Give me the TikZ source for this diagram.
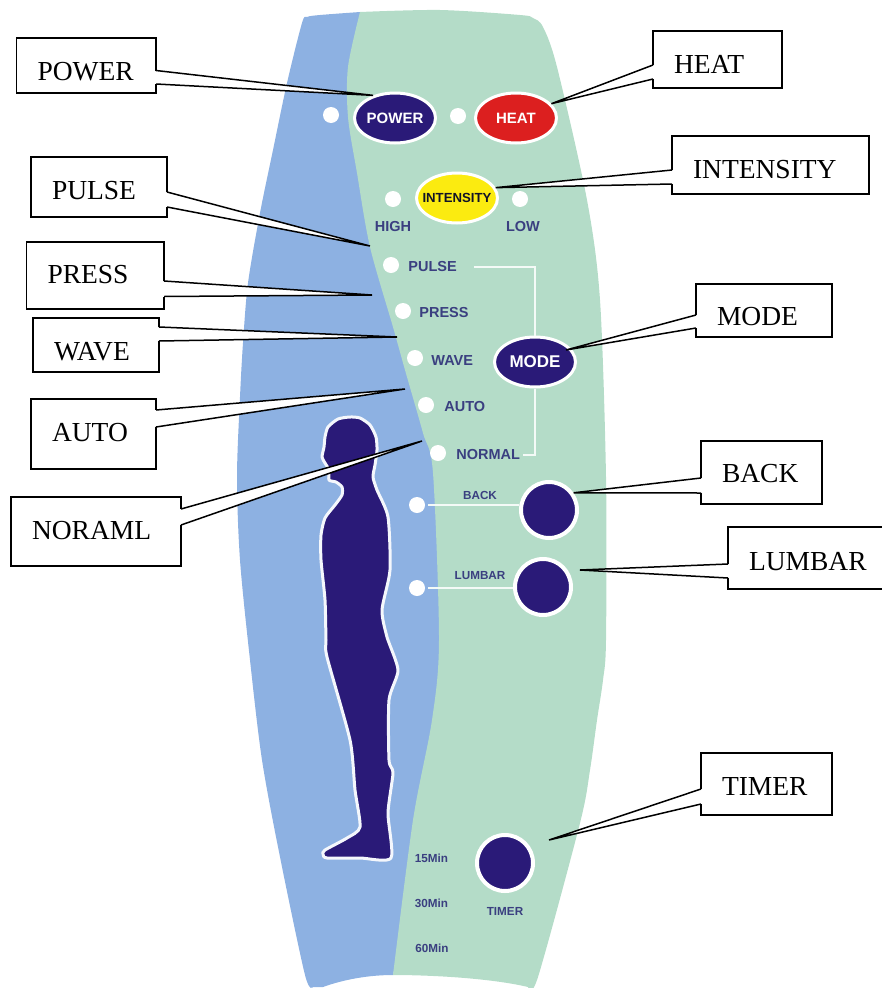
\documentclass[tikz,border=0pt]{standalone}
\usepackage{fontspec}
\usepackage{tikz}
\usepackage{xcolor}
\usetikzlibrary{calc,positioning,shapes.geometric}
\setmainfont{Liberation Serif}
\newfontfamily\panelfont{Liberation Sans}
\definecolor{skyblue}{HTML}{8DB1E2}
\definecolor{mint}{HTML}{B4DCC8}
\definecolor{navy}{HTML}{2A1A78}
\definecolor{labelblue}{HTML}{3A3F80}
\definecolor{heatred}{HTML}{DC1F1F}
\definecolor{lampyellow}{HTML}{FBEB10}
\newcommand{\calltail}[4]{
 \draw[white,line width=2.5pt] (#1 |- 0,#2) -- (#1 |- 0,#3);
 \draw[tailline] (#1 |- 0,#2) -- (#4) -- (#1 |- 0,#3);
}
\begin{document}
\begin{tikzpicture}[
 x=1pt,y=-1pt,
 box/.style={draw=black,fill=white,line width=1.4pt,anchor=north west,inner ysep=0pt,inner xsep=21pt,outer sep=0pt,align=left,font=\fontsize{27.5}{30}\selectfont},
 boxdim/.style n args={3}{text width=#1pt,text height=#2pt,text depth=#3pt},
 tailline/.style={draw=black,fill=white,line width=1.5pt,line join=miter},
 led/.style={circle,fill=white,minimum size=16pt,inner sep=0pt},
 oval/.style={ellipse,draw=white,line width=3pt,minimum width=81pt,minimum height=50pt,inner sep=0pt,text=white,font=\panelfont\bfseries\fontsize{15}{15}\selectfont},
 round/.style={circle,draw=white,fill=navy,line width=4pt,minimum size=56pt,inner sep=0pt},
 lbl/.style={text=labelblue,inner sep=0pt,font=\panelfont\bfseries\fontsize{14.5}{15}\selectfont},
 small/.style={text=labelblue,inner sep=0pt,font=\panelfont\bfseries\fontsize{11.7}{12}\selectfont},
 wire/.style={draw=white!85!mint,line width=1.8pt}
]
\useasboundingbox (0,0) rectangle (881,988);
\fill[skyblue] plot[smooth] coordinates {(360,12) (320,15) (307,17) (302,23) (287,83) (273,150) (260,213) (248,283) (243,343) (240,397) (237,477) (240,560) (250,660) (262,760) (280,857) (305,975) (313,987)} -- (323,987) .. controls (345,979) and (370,975) .. (393,975) -- (500,500) -- cycle;
\fill[mint] plot[smooth] coordinates {(360,12) (440,10) (520,15) (533,18) (543,27) (557,67) (587,200) (600,300) (606,477) (606,640) (603,680) (597,720) (590,770) (580,823) (538,977) (528,987)} .. controls (490,978) and (430,975) .. (393,975) -- plot[smooth] coordinates {(393,975) (413,820) (432,720) (439,640) (433,473) (423,433) (405,370) (393,327) (370,247) (357,173) (348,117) (348,67) (360,12)} -- cycle;
\draw[draw=white!90!skyblue,fill=navy,line width=3pt,line join=round] plot[smooth cycle,tension=0.4] coordinates {(350,417) (338,419) (328,427) (325,437) (324,447) (322,457) (325,463) (329,470) (329,480) (336,482) (342,487) (342,495) (335,505) (325,518) (321,535) (321,560) (325,600) (326,640) (327,657) (350,740) (355,790) (360,827) (347,838) (325,850) (323,854) (327,858) (360,858) (391,858) (388,813) (393,773) (389,760) (389,700) (398,670) (387,637) (382,610) (390,570) (388,517) (377,490) (373,477) (375,465) (377,450) (376,437) (370,425) (360,418)};
\node[oval,fill=navy] (powerbtn) at (395,118) {POWER};
\node[oval,fill=heatred] (heatbtn) at (516,118) {HEAT};
\node[oval,fill=lampyellow,text=black!70!labelblue,font=\panelfont\bfseries\fontsize{13.2}{14}\selectfont] (intensitybtn) at (457,198) {\makebox[50pt]{INTENSITY}};
\node[oval,fill=navy,font=\panelfont\bfseries\fontsize{17}{17}\selectfont] (modebtn) at (535,362) {MODE};
\node[round] (backbtn) at (549,510) {};
\node[round] (lumbarbtn) at (543,587) {};
\node[round] (timerbtn) at (505,863) {};
\node[led] (powerled) at (331,115) {};
\node[led] (heatled) at (458,116) {};
\node[led] (highled) at (393,199) {};
\node[led] (lowled) at (520,199) {};
\node[led] (pulseled) at (391,265) {};
\node[led] (pressled) at (403,311) {};
\node[led] (waveled) at (415,358) {};
\node[led] (autoled) at (426,405) {};
\node[led] (normalled) at (438,453) {};
\node[led] (backled) at (417,505) {};
\node[led] (lumbarled) at (417,588) {};
\node[lbl,below=14pt of highled] (highlbl) {HIGH};
\node[lbl,below=14pt of lowled,xshift=3pt] (lowlbl) {LOW};
\node[lbl,right=9pt of pulseled,yshift=-2pt] (pulselbl) {PULSE};
\node[lbl,right=8pt of pressled,yshift=-2pt] (presslbl) {PRESS};
\node[lbl,right=8pt of waveled,yshift=-3pt] (wavelbl) {WAVE};
\node[lbl,right=10pt of autoled,yshift=-2pt] (autolbl) {AUTO};
\node[lbl,right=10pt of normalled,yshift=-2pt] (normallbl) {NORMAL};
\node[small] (backlbl) at (480,495) {BACK};
\node[small] (lumbarlbl) at (480,576) {LUMBAR};
\node[small] (minfifteen) at (431.5,858) {15Min};
\node[small] (minthirty) at (431.5,903) {30Min};
\node[small] (minsixty) at (432,948) {60Min};
\node[small,below=14pt of timerbtn] (timerlbl) {TIMER};
\draw[wire] ($(pulselbl.east)+(17,0)$) -| (modebtn.north);
\draw[wire] (modebtn.south) |- ($(normallbl.east)+(3,0)$);
\draw[wire,shorten <=3pt] (backled) -- (backled -| backbtn.west);
\draw[wire,shorten <=3pt] (lumbarled) -- (lumbarled -| lumbarbtn.west);
\coordinate (pulsetip) at (370,246);
\coordinate (presstip) at (372,295);
\coordinate (wavetip) at (397,337);
\coordinate (autotip) at (405,389);
\coordinate (normaltip) at (422,441);
\coordinate (modetip) at (566,350);
\coordinate (lumbartip) at (580,570);
\coordinate (timertip) at (549,840);
\node[box,boxdim={97.5}{42}{13}] (power) at (16.5,38) {POWER};
\node[box,boxdim={94}{42}{18}] (pulse) at (31,157) {PULSE};
\node[box,boxdim={95.5}{41}{26}] (press) at (26.5,242) {PRESS};
\node[box,boxdim={84}{42}{12}] (wave) at (33,318) {WAVE};
\node[box,boxdim={83}{42}{28}] (auto) at (31,399) {AUTO};
\node[box,boxdim={128}{42}{27}] (noraml) at (11,497) {NORAML};
\node[box,boxdim={87}{42}{15}] (heat) at (653,31) {HEAT};
\node[box,boxdim={155}{42}{16}] (intensity) at (672,136) {INTENSITY};
\node[box,boxdim={94}{41}{12}] (mode) at (696,284) {MODE};
\node[box,boxdim={79}{41}{22}] (back) at (701,441) {BACK};
\node[box,boxdim={125}{43}{19}] (lumbar) at (728,527) {LUMBAR};
\node[box,boxdim={89}{42}{20}] (timer) at (701,753) {TIMER};
\calltail{power.east}{70.5}{84}{powerbtn.134}
\calltail{pulse.east}{192}{207}{pulsetip}
\calltail{press.east}{281}{296.5}{presstip}
\calltail{wave.east}{327}{341}{wavetip}
\calltail{auto.east}{410}{427}{autotip}
\calltail{noraml.east}{509}{525}{normaltip}
\calltail{heat.west}{65}{79}{heatbtn.22}
\calltail{intensity.west}{170}{184}{intensitybtn.15}
\calltail{mode.west}{315}{328}{modetip}
\calltail{back.west}{478}{493}{backbtn.35}
\calltail{lumbar.west}{564}{578}{lumbartip}
\calltail{timer.west}{789}{804}{timertip}
\end{tikzpicture}
\end{document}
